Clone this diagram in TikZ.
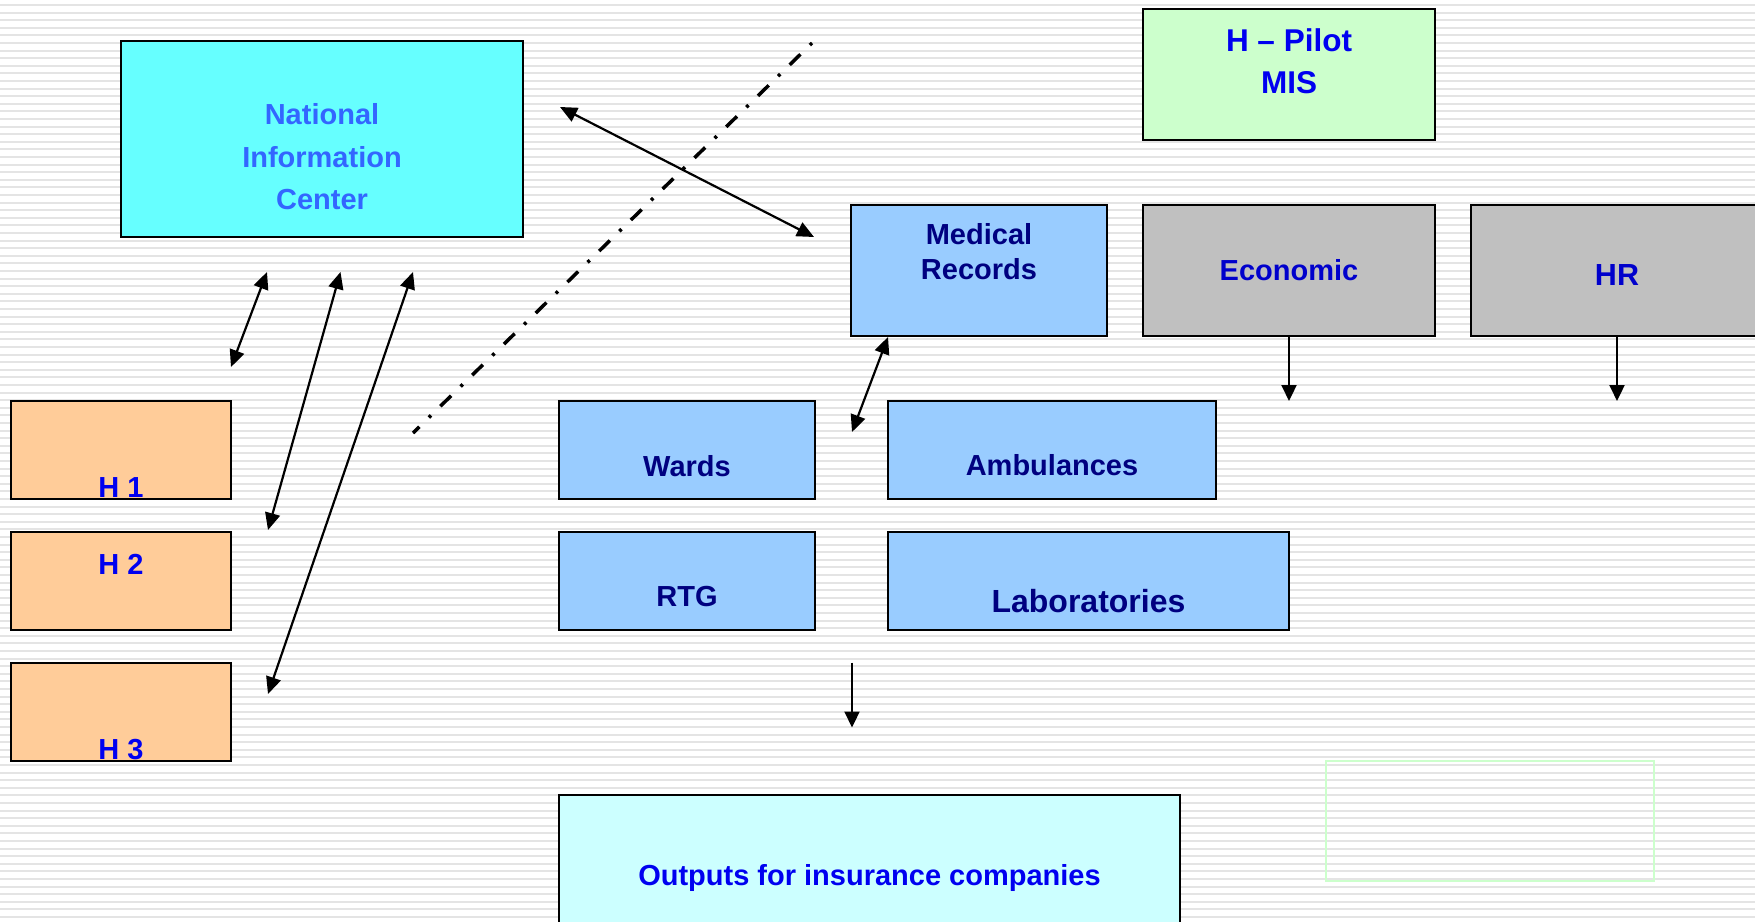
\documentclass[tikz,border=0pt]{standalone}
\usepackage{fontspec}
\setmainfont{Liberation Sans}
\usetikzlibrary{arrows.meta}
\definecolor{stripegray}{HTML}{E4E4E4}
\definecolor{nicfill}{HTML}{66FFFF}
\definecolor{nictext}{HTML}{3366FF}
\definecolor{pilotfill}{HTML}{CCFFCC}
\definecolor{bluefill}{HTML}{99CCFF}
\definecolor{grayfill}{HTML}{C0C0C0}
\definecolor{hfill}{HTML}{FFCC99}
\definecolor{outfill}{HTML}{CCFFFF}
\definecolor{brightblue}{HTML}{0000F0}
\definecolor{darkblue}{HTML}{0000CC}
\definecolor{navytext}{HTML}{000080}
\begin{document}
\begin{tikzpicture}[x=1pt,y=-1pt,
  box/.style={draw=black,line width=2pt,inner sep=0pt,outer sep=0pt},
  lbl/.style={font=\fontsize{29}{34.7}\selectfont\bfseries, align=center, inner sep=0pt, anchor=base},
  arr/.style={line width=2.2pt, {Triangle[length=17pt,width=15pt]}-{Triangle[length=17pt,width=15pt]}},
  arrdown/.style={line width=2.2pt, -{Triangle[length=16pt,width=15pt]}},
  dashdot/.style={line width=3.5pt, dash pattern=on 3pt off 13.2pt on 15pt off 13.2pt}
]
\useasboundingbox (0,0) rectangle (1755,921);
\clip (0,0) rectangle (1755,921);
\fill[white] (0,0) rectangle (1755,921);
\foreach \i in {0,...,121} \fill[stripegray] (0,{4+7.6*\i}) rectangle (1755,{6+7.6*\i});

% boxes
\node[box,fill=nicfill,minimum width=402pt,minimum height=196pt] (nic) at (322,139) {};
\node[box,fill=pilotfill,minimum width=292pt,minimum height=131pt] (pilot) at (1289,74.5) {};
\node[box,fill=bluefill,minimum width=256pt,minimum height=131pt] (med) at (979,270.5) {};
\node[box,fill=grayfill,minimum width=292pt,minimum height=131pt] (eco) at (1289,270.5) {};
\node[box,fill=grayfill,minimum width=292pt,minimum height=131pt] (hr) at (1617,270.5) {};
\node[box,fill=bluefill,minimum width=256pt,minimum height=98pt] (wards) at (687,450) {};
\node[box,fill=bluefill,minimum width=328pt,minimum height=98pt] (amb) at (1052,450) {};
\node[box,fill=bluefill,minimum width=256pt,minimum height=98pt] (rtg) at (687,581) {};
\node[box,fill=bluefill,minimum width=401pt,minimum height=98pt] (lab) at (1088.5,581) {};
\node[box,fill=hfill,minimum width=220pt,minimum height=98pt] (h1) at (121,450) {};
\node[box,fill=hfill,minimum width=220pt,minimum height=98pt] (h2) at (121,581) {};
\node[box,fill=hfill,minimum width=220pt,minimum height=98pt] (h3) at (121,712) {};
\node[box,fill=outfill,minimum width=621pt,minimum height=131pt] (out) at (869.5,860.5) {};
\node[draw=pilotfill,line width=2pt,inner sep=0pt,minimum width=328pt,minimum height=120pt] (empty) at (1490,821) {};

% labels (base anchor = baseline of the last line)
\node[lbl,text=nictext,font=\fontsize{29}{42.5}\selectfont\bfseries] (niclbl) at (322,209.5) {National\\Information\\Center};
\node[lbl,text=brightblue,font=\fontsize{31.5}{41.4}\selectfont\bfseries] (pilotlbl) at (1289,93) {H – Pilot\\MIS};
\node[lbl,text=navytext] (medlbl) at (979,279) {Medical\\Records};
\node[lbl,text=darkblue] (ecolbl) at (1289,280) {Economic};
\node[lbl,text=darkblue,font=\fontsize{30.5}{36}\selectfont\bfseries] (hrlbl) at (1617,285) {HR};
\node[lbl,text=navytext] (wardslbl) at (687,476) {Wards};
\node[lbl,text=navytext] (amblbl) at (1052,475) {Ambulances};
\node[lbl,text=navytext] (rtglbl) at (687,606) {RTG};
\node[lbl,text=navytext,font=\fontsize{32}{38}\selectfont\bfseries] (lablbl) at (1088.5,612.5) {Laboratories};
\node[lbl,text=brightblue] (h1lbl) at (121,497) {H 1};
\node[lbl,text=brightblue] (h2lbl) at (121,574) {H 2};
\node[lbl,text=brightblue] (h3lbl) at (121,759) {H 3};
\node[lbl,text=brightblue] (outlbl) at (869.5,885.5) {Outputs for insurance companies};

% connector end points
\coordinate (a1t) at (267,272);   \coordinate (a1b) at (231,367);
\coordinate (a2t) at (340.5,272); \coordinate (a2b) at (268,530);
\coordinate (a3t) at (413,272);   \coordinate (a3b) at (268,694);
\coordinate (a4l) at (560,107);   \coordinate (a4r) at (814,237);
\coordinate (a5t) at (888,337);   \coordinate (a5b) at (852,432);
\coordinate (ecoend) at (1289,401);
\coordinate (hrend) at (1617,401);
\coordinate (outtop) at (852,662.5); \coordinate (outend) at (852,727.5);
\coordinate (dtop) at (812,43);   \coordinate (dbot) at (413,433);

% connectors
\draw[arr] (a1t) -- (a1b);
\draw[arr] (a2t) -- (a2b);
\draw[arr] (a3t) -- (a3b);
\draw[arr] (a4l) -- (a4r);
\draw[arr] (a5t) -- (a5b);
\draw[arrdown] (eco.south) -- (ecoend);
\draw[arrdown] (hr.south) -- (hrend);
\draw[arrdown] (outtop) -- (outend);
\draw[dashdot] (dtop) -- (dbot);
\end{tikzpicture}
\end{document}
